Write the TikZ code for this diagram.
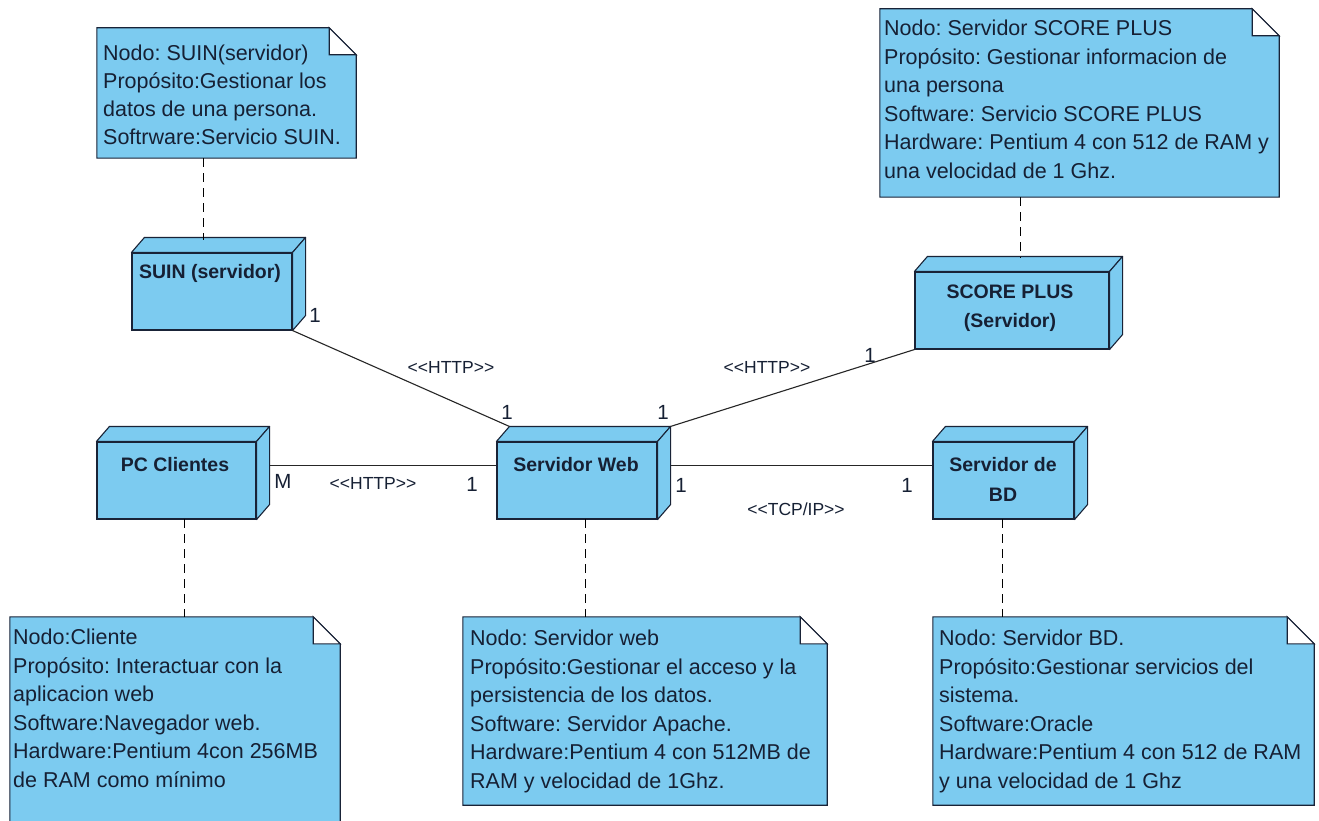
\documentclass[tikz,border=0pt]{standalone}
\usepackage{fontspec}
\setmainfont{Liberation Sans}
\definecolor{nodefill}{RGB}{124,203,240}
\definecolor{edgecol}{RGB}{25,35,55}
\definecolor{txtcol}{RGB}{22,32,52}
\newcommand{\dlt}{\textless\kern0pt\textless\kern0pt}
\newcommand{\dgt}{\kern0pt\textgreater\kern0pt\textgreater}
\begin{document}
\frenchspacing
\begin{tikzpicture}[x=1pt,y=-1pt,
  nodebox/.style={draw=edgecol, fill=nodefill, line width=1.1pt, inner sep=0pt, rectangle},
  facestyle/.style={draw=edgecol, fill=nodefill, line width=1.1pt, line join=round},
  notebox/.style={inner sep=0pt, rectangle},
  notebody/.style={draw=edgecol, fill=nodefill, line width=1.1pt},
  notefold/.style={draw=edgecol, fill=white, line width=1.1pt},
  notetext/.style={anchor=north west, inner sep=0pt, align=left, text=txtcol, font=\fontsize{21.5}{28.5}\selectfont},
  nodelabel/.style={inner sep=0pt, align=center, text=txtcol, font=\bfseries\fontsize{19.5}{29.5}\selectfont},
  conn/.style={draw=black!85, line width=1.1pt},
  dashconn/.style={draw=black, line width=1pt, dash pattern=on 9pt off 6pt},
  mult/.style={inner sep=0pt, text=txtcol, font=\fontsize{20.5}{24}\selectfont},
  stereo/.style={inner sep=0pt, text=txtcol, font=\fontsize{17.5}{20}\selectfont}
]
\clip (0,0) rectangle (1319,821);
\fill[white] (0,0) rectangle (1319,821);

% ---------- note boxes (geometry) ----------
\node[notebox, minimum width=259, minimum height=130] (nsuin) at (226.5,93) {};
\node[notebox, minimum width=399, minimum height=188] (nscore) at (1079.5,103) {};
\node[notebox, minimum width=330, minimum height=220] (npc) at (175,727) {};
\node[notebox, minimum width=364, minimum height=188] (nweb) at (645,711) {};
\node[notebox, minimum width=381, minimum height=188] (nbd) at (1123.5,711) {};

\foreach \n in {nsuin,nscore,npc,nweb,nbd}{
  \path[notebody] (\n.north west) -- ([xshift=-27pt]\n.north east) -- ([yshift=-27pt]\n.north east)
     -- (\n.south east) -- (\n.south west) -- cycle;
  \path[notefold] ([xshift=-27pt]\n.north east) -- ([xshift=-27pt,yshift=-27pt]\n.north east)
     -- ([yshift=-27pt]\n.north east) -- cycle;
}

% ---------- note texts ----------
\node[notetext, font=\fontsize{21.5}{28}\selectfont] (tsuin) at (103,45) {Nodo: SUIN(servidor)\\Propósito:Gestionar los\\datos de una persona.\\Softrware:Servicio SUIN.};
\node[notetext] (tscore) at (884,20) {Nodo: Servidor SCORE PLUS\\Propósito: Gestionar informacion de\\una persona\\Software: Servicio SCORE PLUS\\Hardware: Pentium 4 con 512 de RAM y\\una velocidad de 1 Ghz.};
\node[notetext] (tpc) at (13,629) {Nodo:Cliente\\Propósito: Interactuar con la\\aplicacion web\\Software:Navegador web.\\Hardware:Pentium 4con 256MB\\de RAM como mínimo};
\node[notetext] (tweb) at (470,630) {Nodo: Servidor web\\Propósito:Gestionar el acceso y la\\persistencia de los datos.\\Software: Servidor Apache.\\Hardware:Pentium 4 con 512MB de\\RAM y velocidad de 1Ghz.};
\node[notetext] (tbd) at (939,630) {Nodo: Servidor BD.\\Propósito:Gestionar servicios del\\sistema.\\Software:Oracle\\Hardware:Pentium 4 con 512 de RAM\\y una velocidad de 1 Ghz};

% ---------- 3D nodes ----------
\node[nodebox, minimum width=160, minimum height=77] (suin) at (212,291.5) {};
\node[nodebox, minimum width=194, minimum height=77] (score) at (1012,310.5) {};
\node[nodebox, minimum width=159, minimum height=77] (pc) at (176.5,480.5) {};
\node[nodebox, minimum width=160, minimum height=77] (web) at (577,480.5) {};
\node[nodebox, minimum width=141, minimum height=77] (bd) at (1003.5,480.5) {};

\foreach \n in {suin,score,pc,web,bd}{
  \path[facestyle] (\n.north west) -- ++(13,-15) -- ([shift={(13,-15)}]\n.north east) -- (\n.north east) -- cycle;
  \path[facestyle] (\n.north east) -- ++(13,-15) -- ([shift={(13,-15)}]\n.south east) -- (\n.south east) -- cycle;
}

\node[nodelabel] (lsuin) at (210,273) {SUIN (servidor)};
\node[nodelabel] (lscore) at (1010,308) {SCORE PLUS\\(Servidor)};
\node[nodelabel] (lpc) at (175,465) {PC Clientes};
\node[nodelabel] (lweb) at (576,465) {Servidor Web};
\node[nodelabel] (lbd) at (1003,479.5) {Servidor de\\BD};

% ---------- connectors ----------
\draw[conn] (suin.south east) -- ([shift={(13,-15)}]web.north west);
\draw[conn] ([shift={(13,-15)}]web.north east) -- (score.south west);
\draw[conn] ([shift={(13,-15)}]pc.east) -- ([shift={(0,-15)}]web.west);
\draw[conn] ([shift={(13,-15)}]web.east) -- ([shift={(0,-15)}]bd.west);

% ---------- dashed note links ----------
\coordinate (dsuin) at (203,240);
\coordinate (dscore) at (1020,258);
\coordinate (dpc) at (184,519);
\coordinate (dweb) at (585,519);
\coordinate (dbd) at (1002,519);
\draw[dashconn] (nsuin.south -| dsuin) -- (dsuin);
\draw[dashconn] (nscore.south -| dscore) -- (dscore);
\draw[dashconn] (dpc) -- (npc.north -| dpc);
\draw[dashconn] (dweb) -- (nweb.north -| dweb);
\draw[dashconn] (dbd) -- (nbd.north -| dbd);

% ---------- connector labels ----------
\node[mult] (m1a) at (315,315) {1};
\node[stereo] (s1) at (451,367) {\dlt HTTP\dgt};
\node[mult] (m1b) at (507,412) {1};
\node[mult] (m2a) at (870,355) {1};
\node[stereo] (s2) at (767,367) {\dlt HTTP\dgt};
\node[mult] (m2b) at (663,412) {1};
\node[mult] (m3a) at (283,481) {M};
\node[stereo] (s3) at (373,483) {\dlt HTTP\dgt};
\node[mult] (m3b) at (472,484) {1};
\node[mult] (m4a) at (681,485) {1};
\node[stereo] (s4) at (796,509) {\dlt TCP/IP\dgt};
\node[mult] (m4b) at (907,485) {1};
\end{tikzpicture}
\end{document}
